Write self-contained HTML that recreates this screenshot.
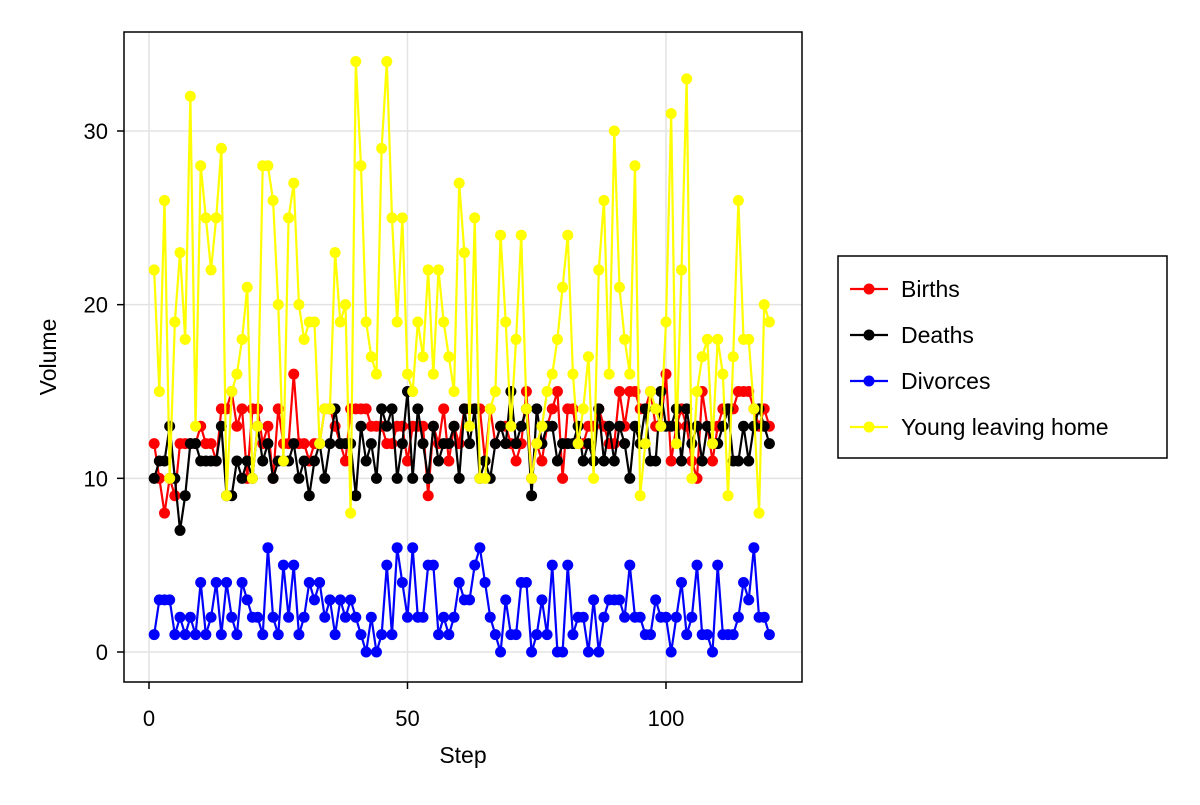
<!DOCTYPE html>
<html><head><meta charset="utf-8"><style>
body{margin:0;background:#fff;}
svg text{font-family:"Liberation Sans",sans-serif;fill:#000;}
</style></head><body>
<svg id="chart" width="1200" height="800" xmlns="http://www.w3.org/2000/svg">
<rect width="1200" height="800" fill="#fff"/>
<g id="grid"></g>
<g id="series"></g>
<rect x="124" y="32" width="678" height="650" fill="none" stroke="#000" stroke-width="1.5"/>
<g id="axes"></g>
<text x="463" y="763" font-size="23" text-anchor="middle">Step</text>
<text transform="translate(56,357) rotate(-90)" font-size="23" text-anchor="middle">Volume</text>
<g id="legend">
<rect x="838" y="256" width="329" height="202" fill="#fff" stroke="#000" stroke-width="1.5"/>
</g>
</svg>
<script>
const births=[12,10,8,10,9,12,12,12,12,13,12,12,11,14,14,15,13,14,10,14,14,12,13,10,14,12,12,16,12,12,11,12,12,14,14,13,12,11,14,14,14,14,13,13,13,12,12,13,13,11,13,13,13,9,13,12,14,11,13,12,14,14,14,14,11,14,12,13,13,12,11,12,15,10,12,11,13,14,15,10,14,14,12,12,13,13,14,13,12,12,15,13,15,15,14,14,15,13,13,16,11,13,14,13,11,10,15,13,11,13,14,14,14,15,15,15,14,13,14,13];
const deaths=[10,11,11,13,10,7,9,12,12,11,11,11,11,13,9,9,11,10,11,10,13,11,12,10,11,11,11,12,10,11,9,11,12,10,12,14,12,12,12,9,13,11,12,10,14,13,14,10,12,15,10,14,12,10,13,11,12,12,13,10,14,12,14,10,11,10,12,13,12,15,12,13,14,9,14,12,13,13,11,12,12,12,13,11,12,11,14,11,13,11,13,12,10,13,12,14,11,11,15,13,13,14,11,14,12,13,11,13,12,12,13,14,11,11,13,11,13,14,13,12];
const divorces=[1,3,3,3,1,2,1,2,1,4,1,2,4,1,4,2,1,4,3,2,2,1,6,2,1,5,2,5,1,2,4,3,4,2,3,1,3,2,3,2,1,0,2,0,1,5,1,6,4,2,6,2,2,5,5,1,2,1,2,4,3,3,5,6,4,2,1,0,3,1,1,4,4,0,1,3,1,5,0,0,5,1,2,2,0,3,0,2,3,3,3,2,5,2,2,1,1,3,2,2,0,2,4,1,2,5,1,1,0,5,1,1,1,2,4,3,6,2,2,1];
const young=[22,15,26,10,19,23,18,32,13,28,25,22,25,29,9,15,16,18,21,10,13,28,28,26,20,11,25,27,20,18,19,19,12,14,14,23,19,20,8,34,28,19,17,16,29,34,25,19,25,16,15,19,17,22,16,22,19,17,15,27,23,13,25,10,10,14,15,24,19,13,18,24,14,10,12,13,15,16,18,21,24,16,12,14,17,10,22,26,16,30,21,18,16,28,9,12,15,14,13,19,31,12,22,33,10,15,17,18,12,18,16,9,17,26,18,18,14,8,20,19];
const seriesNames=["Births","Deaths","Divorces","Young leaving home"];
const seriesColors=["#ff0000","#000000","#0000ff","#ffff00"];
const xTicks=[0,50,100];
const yTicks=[0,10,20,30];

const NS="http://www.w3.org/2000/svg";
function xs(v){return 149+v*(666-149)/100;}
function ys(v){return 652-v*(652-131)/30;}
function mk(tag,attrs,parent){const e=document.createElementNS(NS,tag);for(const k in attrs)e.setAttribute(k,attrs[k]);parent.appendChild(e);return e;}
const grid=document.getElementById('grid'),axes=document.getElementById('axes'),ser=document.getElementById('series');
xTicks.forEach(t=>{
  const l=mk('line',{x1:xs(t),x2:xs(t),y1:32,y2:682,stroke:'#e3e3e3','stroke-width':1.5},grid);
  
  
  const k=mk('line',{x1:xs(t),x2:xs(t),y1:682,y2:689,stroke:'#000','stroke-width':1.5},axes);
  
  
  const tx=mk('text',{x:xs(t),y:726,'font-size':22,'text-anchor':'middle'},axes);tx.textContent=t;
  
  
});
yTicks.forEach(t=>{
  const l=mk('line',{x1:124,x2:802,y1:ys(t),y2:ys(t),stroke:'#e3e3e3','stroke-width':1.5},grid);
  
  
  const k=mk('line',{x1:117,x2:124,y1:ys(t),y2:ys(t),stroke:'#000','stroke-width':1.5},axes);
  
  
  const tx=mk('text',{x:108,y:ys(t)+8,'font-size':22,'text-anchor':'end'},axes);tx.textContent=t;
  
  
});
[births,deaths,divorces,young].forEach((arr,i)=>{
  const g=mk('g',{},ser);
  
  
  const pts=arr.map((v,j)=>xs(j+1)+','+ys(v)).join(' ');
  mk('polyline',{points:pts,fill:'none',stroke:seriesColors[i],'stroke-width':2.2,'stroke-linejoin':'round'},g);
  arr.forEach((v,j)=>{
    const c=mk('circle',{cx:xs(j+1),cy:ys(v),r:5.5,fill:seriesColors[i]},g);
    
    
  });
});
const lg=document.getElementById('legend');
seriesNames.forEach((n,i)=>{
  const y=289+i*46;
  const g=mk('g',{},lg);
  
  
  mk('line',{x1:850,x2:888,y1:y,y2:y,stroke:seriesColors[i],'stroke-width':2.2},g);
  mk('circle',{cx:869,cy:y,r:5.5,fill:seriesColors[i]},g);
  const t=mk('text',{x:901,y:y+8,'font-size':23},g);t.textContent=n;
});
</script>
</body></html>
